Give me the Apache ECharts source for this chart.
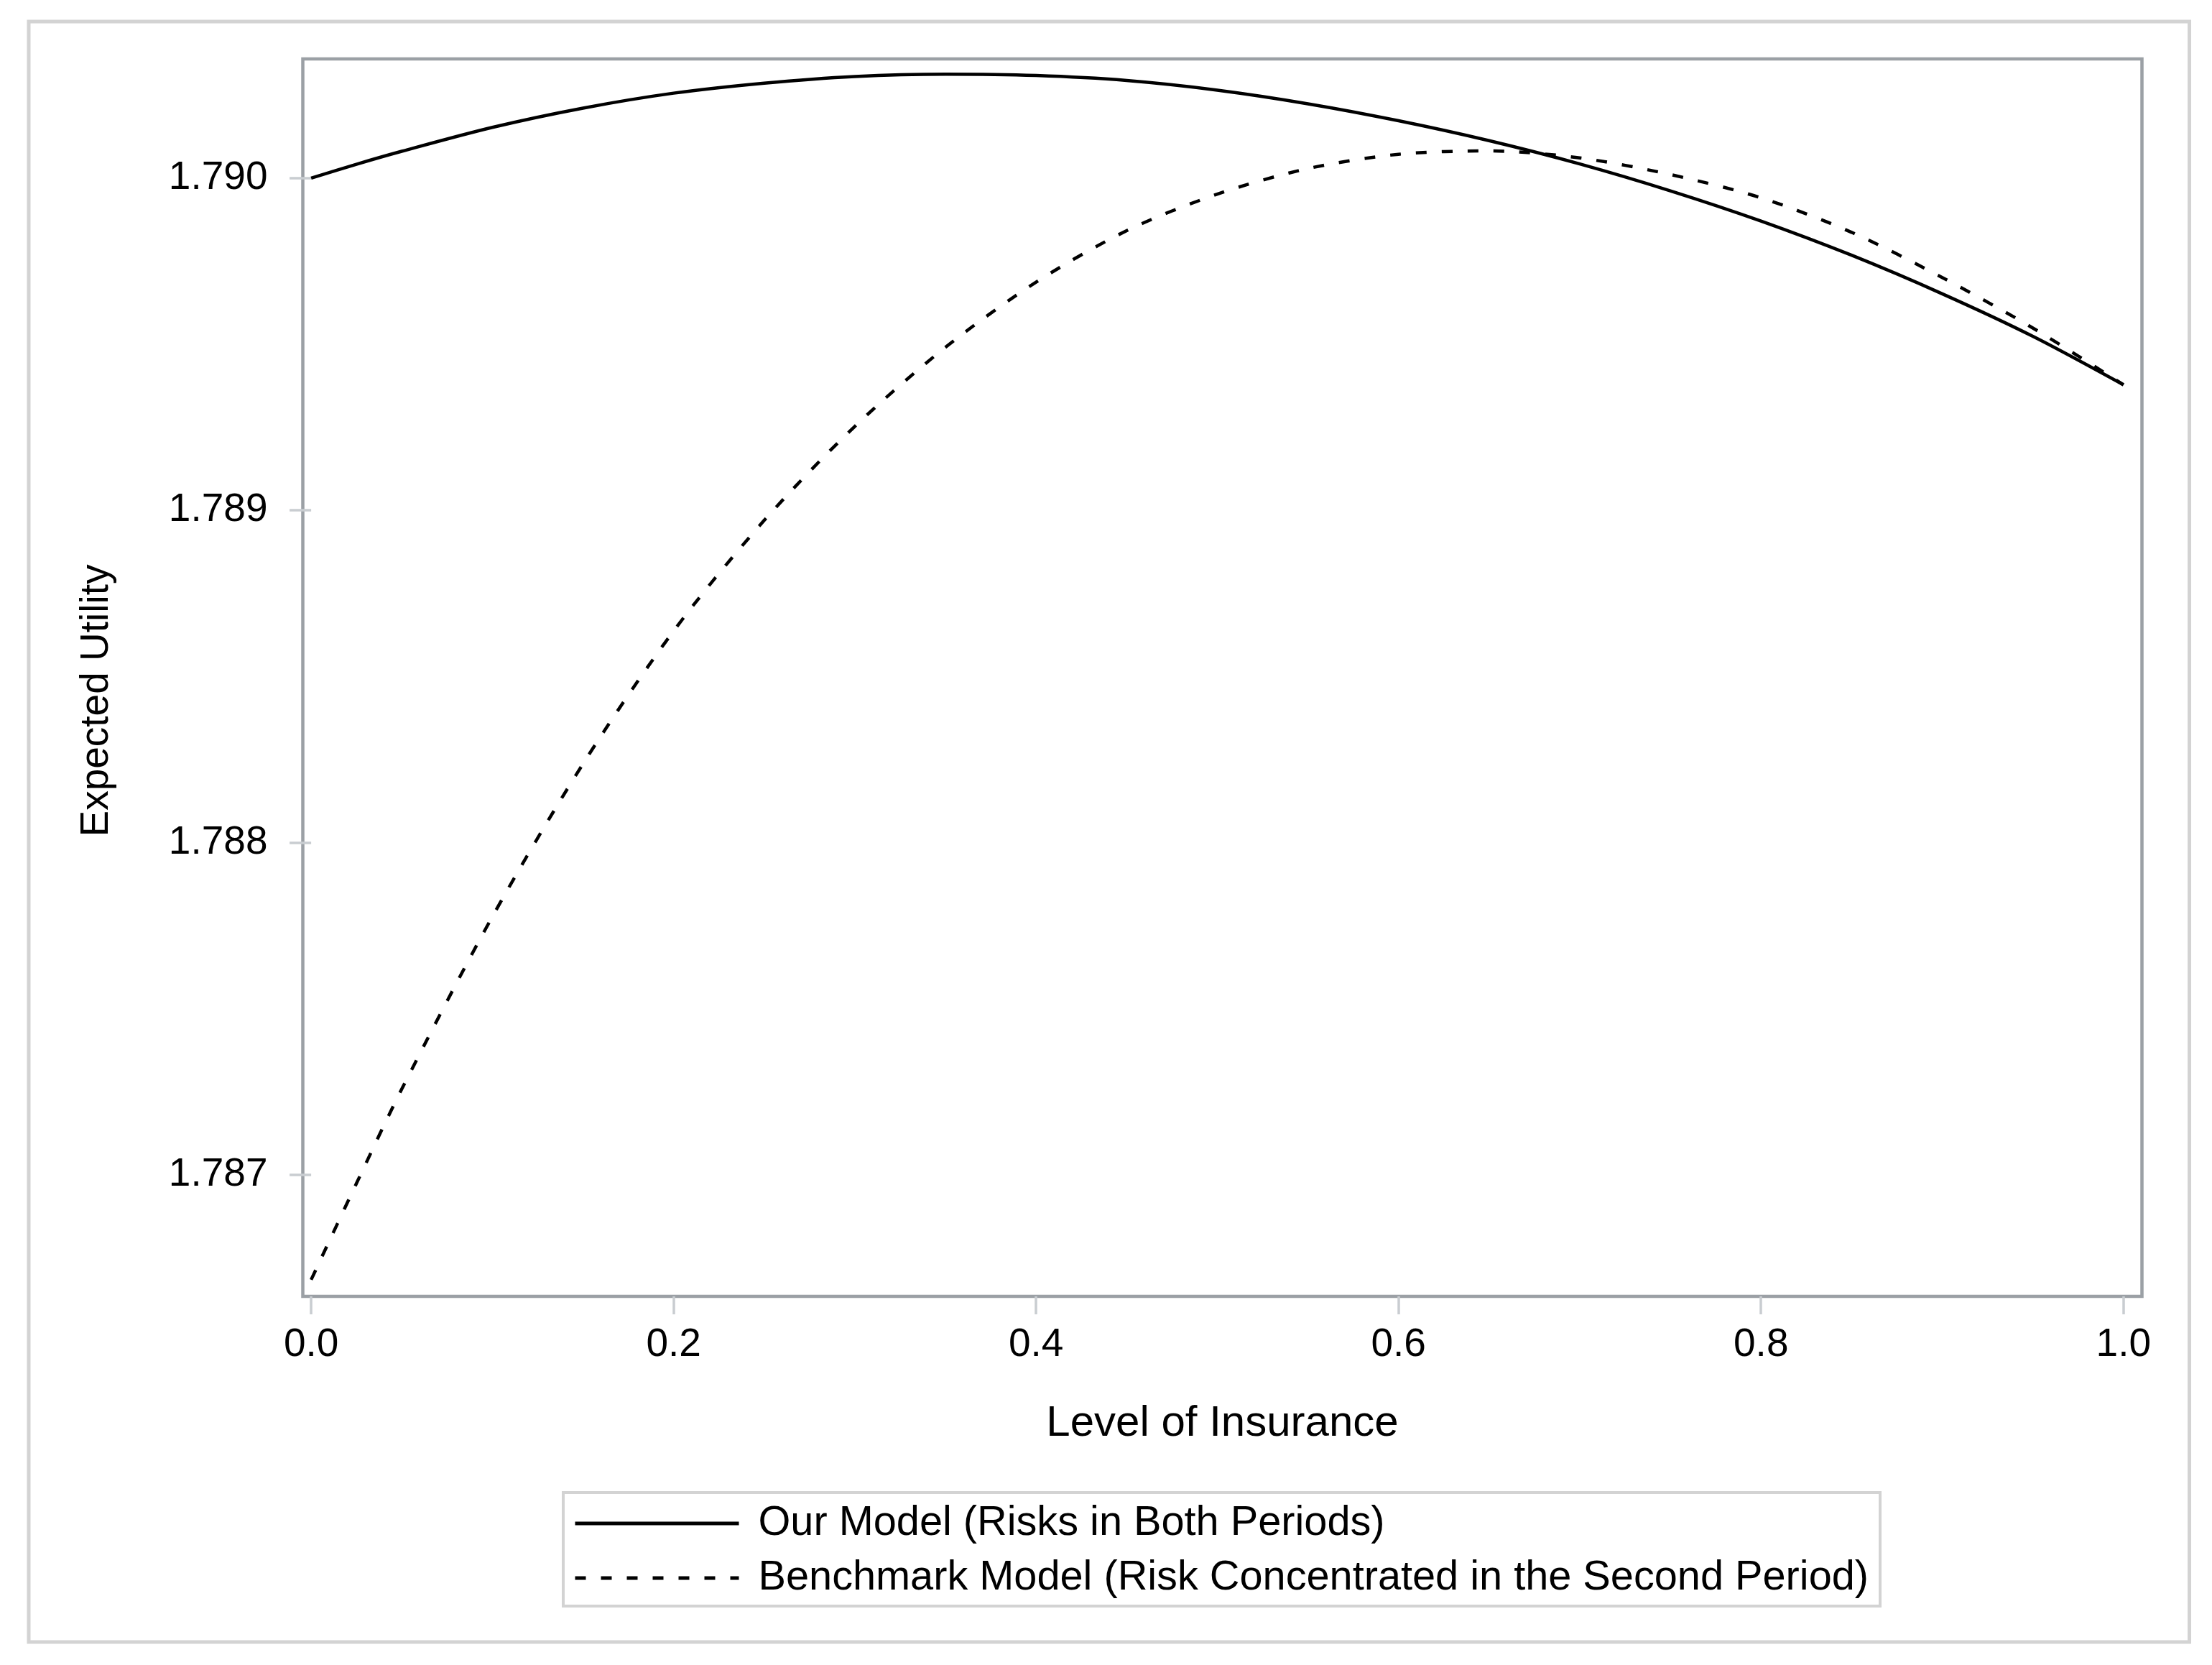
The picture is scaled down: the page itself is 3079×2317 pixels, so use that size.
<!DOCTYPE html>
<html>
<head>
<meta charset="utf-8">
<script src="https://cdn.jsdelivr.net/npm/echarts@6/dist/echarts.min.js"></script>
<style>
html,body{margin:0;padding:0;background:#fff;}
#chart{width:3079px;height:2317px;}
</style>
</head>
<body>
<div id="chart"></div>
<script>
// Level of insurance (x values)
const insuranceLevels = [0, 0.025, 0.05, 0.10, 0.15, 0.20, 0.25, 0.30, 0.35, 0.40, 0.45, 0.50,
                         0.55, 0.60, 0.65, 0.70, 0.75, 0.80, 0.85, 0.90, 0.95, 1.00];
// Our Model (Risks in Both Periods)
const ourModel = [1.790000, 1.790042, 1.790081, 1.790153, 1.790211, 1.790256, 1.790286, 1.790306,
                  1.790313, 1.790309, 1.790294, 1.790265, 1.790224, 1.790173, 1.790113, 1.790043,
                  1.789962, 1.789871, 1.789768, 1.789652, 1.789524, 1.789378];
// Benchmark Model (Risk Concentrated in the Second Period)
const benchmarkModel = [1.786684, 1.786974, 1.787258, 1.787777, 1.788237, 1.788637, 1.788970, 1.789253,
                        1.789491, 1.789687, 1.789842, 1.789952, 1.790029, 1.790072, 1.790082, 1.790061,
                        1.790011, 1.789941, 1.789837, 1.789701, 1.789549, 1.789378];
const xTicks = [0, 0.2, 0.4, 0.6, 0.8, 1.0];
const yTicks = [1.787, 1.788, 1.789, 1.790];
const seriesNames = ['Our Model (Risks in Both Periods)',
                     'Benchmark Model (Risk Concentrated in the Second Period)'];

const pairs = (xs, ys) => xs.map((x, i) => [x, ys[i]]);
const FONT = "'Liberation Sans', Arial, Helvetica, sans-serif";

const chart = echarts.init(document.getElementById('chart'), null, {renderer: 'canvas'});
const option = {
  backgroundColor: '#ffffff',
  animation: false,
  textStyle: {fontFamily: FONT, color: '#000'},
  grid: {
    left: 421.5, top: 82, width: 2560, height: 1722,
    show: true, borderColor: '#9ba0a5', borderWidth: 4.5, backgroundColor: 'transparent'
  },
  xAxis: {
    type: 'value', min: -0.0046, max: 1.0102,
    axisLine: {show: false},
    splitLine: {show: false},
    axisTick: {show: true, length: 25, customValues: xTicks,
               lineStyle: {color: '#c9cdd1', width: 3.5}},
    axisLabel: {customValues: xTicks, formatter: v => v.toFixed(1),
                fontSize: 55, color: '#000', margin: 40, fontFamily: FONT},
    name: 'Level of Insurance', nameLocation: 'middle', nameGap: 147,
    nameTextStyle: {fontSize: 60, color: '#000', fontFamily: FONT}
  },
  yAxis: {
    type: 'value', min: 1.786634, max: 1.790359,
    axisLine: {show: false},
    splitLine: {show: false},
    axisTick: {show: true, length: 30, customValues: yTicks,
               lineStyle: {color: '#c9cdd1', width: 3.5}},
    axisLabel: {customValues: yTicks, formatter: v => v.toFixed(3),
                fontSize: 55, color: '#000', margin: 49, fontFamily: FONT},
    name: 'Expected Utility', nameLocation: 'middle', nameGap: 259,
    nameTextStyle: {fontSize: 55, color: '#000', fontFamily: FONT, padding: [0, 64, 0, 0]}
  },
  legend: {
    orient: 'vertical', left: 784, top: 2077,
    itemWidth: 228, itemHeight: 20, itemGap: 18,
    padding: [14, 16, 10, 14],
    borderColor: '#d3d3d3', borderWidth: 4,
    itemStyle: {opacity: 0},
    lineStyle: {width: 5},
    textStyle: {fontSize: 57.7, color: '#000', fontFamily: FONT, padding: [0, 0, 0, 22]},
    data: seriesNames
  },
  graphic: [{
    type: 'rect', silent: true, z: -1,
    shape: {x: 40, y: 30, width: 3007.5, height: 2255},
    style: {fill: null, stroke: '#d3d3d3', lineWidth: 5}
  }],
  series: [
    {
      name: seriesNames[0], type: 'line', data: pairs(insuranceLevels, ourModel),
      symbol: 'none', smooth: 0.3,
      lineStyle: {color: '#000', width: 4.5, type: 'solid'},
      itemStyle: {color: '#000'}
    },
    {
      name: seriesNames[1], type: 'line', data: pairs(insuranceLevels, benchmarkModel),
      symbol: 'none', smooth: 0.3,
      lineStyle: {color: '#000', width: 4.5, type: [15, 21]},
      itemStyle: {color: '#000'}
    }
  ]
};
chart.setOption(option);
</script>
</body>
</html>
